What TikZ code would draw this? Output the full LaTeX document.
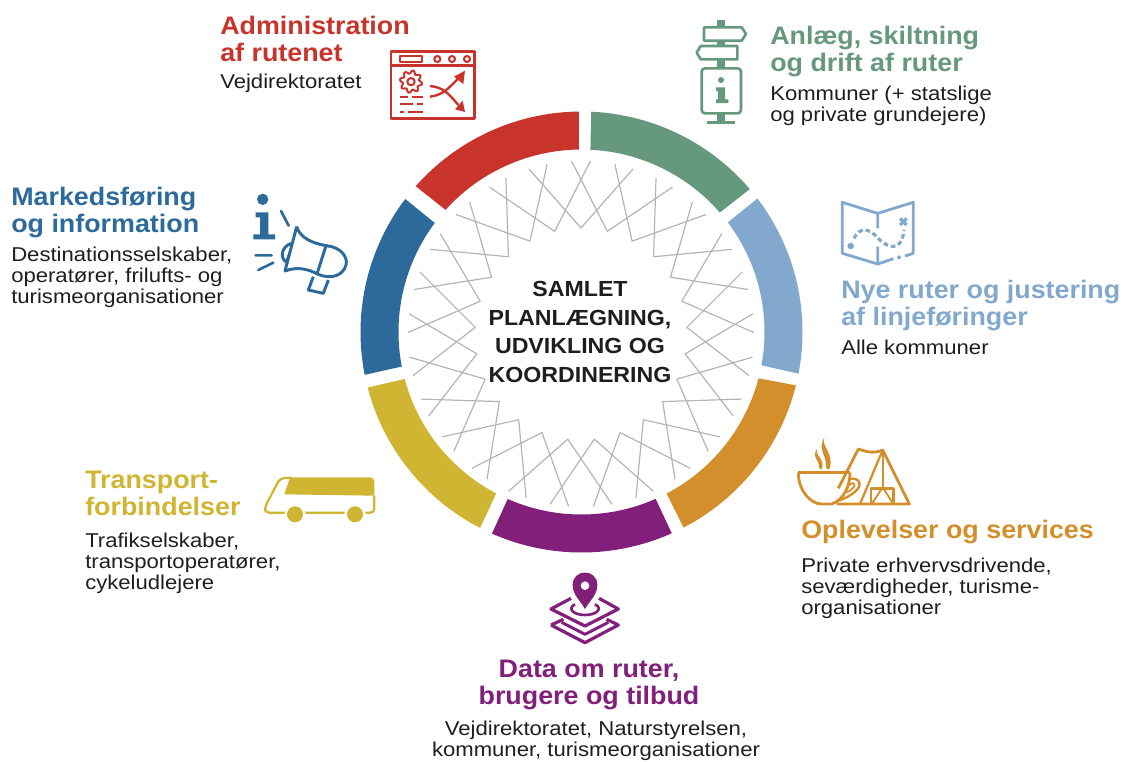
\documentclass[tikz,border=0pt]{standalone}
\usepackage{fontspec}
\setmainfont{Liberation Sans}
\newfontfamily\headf[FakeStretch=1.06]{Liberation Sans}
\newfontfamily\bodyf[FakeStretch=1.105]{Liberation Sans}
\definecolor{cred}{HTML}{C8342C}
\definecolor{cgreen}{HTML}{65987D}
\definecolor{clblue}{HTML}{82A8CE}
\definecolor{corange}{HTML}{D38F2B}
\definecolor{cpurple}{HTML}{821F7A}
\definecolor{cyellow}{HTML}{CFB532}
\definecolor{cdblue}{HTML}{2C6A9C}
\definecolor{cink}{HTML}{1E1E1E}
\definecolor{clat}{HTML}{B4B4B4}
\newcommand{\ringseg}[5]{\fill[#1] plot[domain=#2:#3,samples=40] ({581.5+221*cos(\x)},{332-220.5*sin(\x)}) -- plot[domain=#4:#5,samples=40] ({581.5+183*cos(\x)},{332-182.5*sin(\x)}) -- cycle;}
\tikzset{
  title/.style={anchor=north west,inner sep=0pt,align=left,font=\headf\bfseries\fontsize{19}{20.25}\selectfont},
  body/.style={anchor=north west,inner sep=0pt,align=left,text=cink,font=\bodyf\fontsize{15}{15.5}\selectfont},
  zoomed/.style={x=.25pt,y=-.25pt},
  ic/.style={line width=#1,line join=round},
}
\begin{document}
\begin{tikzpicture}[x=.75pt,y=-.75pt]
\useasboundingbox (0,0) rectangle (1130,761);
% ring
\ringseg{cred}{90.7}{138.6}{138}{90.8}
\ringseg{cgreen}{87.5}{40.4}{40.9}{87.2}
\ringseg{clblue}{37.25}{-10.9}{-10.5}{36.9}
\ringseg{corange}{-14}{-62.5}{-62.3}{-14.7}
\ringseg{cpurple}{246.1}{294.1}{293.9}{246.2}
\ringseg{cyellow}{242.7}{194.6}{194.9}{242.2}
\ringseg{cdblue}{191.2}{142.9}{143.3}{190.9}
% lattice
\foreach \k in {0,...,24}{
  \pgfmathsetmacro{\a}{90+14.4*\k}
  \draw[clat,line width=.9pt,line join=round]
    ({581+173*cos(\a-17.5)},{334-173*sin(\a-17.5)}) --
    ({581+106*cos(\a)},{334-106*sin(\a)}) --
    ({581+173*cos(\a+17.5)},{334-173*sin(\a+17.5)});
}
% centre
\node[anchor=north,inner sep=0pt,align=center,text=cink,font=\headf\bfseries\fontsize{16.4}{21.4}\selectfont] (centre) at (580,281) {SAMLET\\PLANLÆGNING,\\UDVIKLING OG\\KOORDINERING};
% texts
\node[title,text=cred] (t1) at (220,16) {Administration\\af rutenet};
\node[body] (b1) at (220,74) {Vejdirektoratet};
\node[title,text=cgreen] (t2) at (770,26) {Anlæg, skiltning\\og drift af ruter};
\node[body] (b2) at (770,86) {Kommuner (+ statslige\\og private grundejere)};
\node[title,text=clblue] (t3) at (841,280) {Nye ruter og justering\\af linjeføringer};
\node[body] (b3) at (841,340) {Alle kommuner};
\node[title,text=corange] (t4) at (801,520) {Oplevelser og services};
\node[body] (b4) at (801,558) {Private erhvervsdrivende,\\seværdigheder, turisme-\\organisationer};
\node[title,text=cpurple,anchor=north,align=center] (t5) at (589,660) {Data om ruter,\\brugere og tilbud};
\node[body,anchor=north,align=center] (b5) at (596,721) {Vejdirektoratet, Naturstyrelsen,\\kommuner, turismeorganisationer};
\node[title,text=cyellow] (t6) at (85,471) {Transport-\\forbindelser};
\node[body] (b6) at (85,533) {Trafikselskaber,\\transportoperatører,\\cykeludlejere};
\node[title,text=cdblue] (t7) at (11,187) {Markedsføring\\og information};
\node[body] (b7) at (11,247) {Destinationsselskaber,\\operatører, frilufts- og\\turismeorganisationer};
% red icon
\begin{scope}[shift={(380,10)},zoomed,cred]
\draw[ic=1.8pt] (33,125) rectangle (283,325);
\draw[ic=1.8pt] (33,167) -- (283,167);
\draw[ic=1.6pt] (60,138) rectangle (125,155);
\foreach \p in {172,216,261} \draw[ic=1.6pt] (\p,147) circle[radius=9];
\draw[ic=1.5pt] plot[domain=0:360,samples=145] ({93+(29+4.5*sin(8*\x))*cos(\x)},{215+(29+4.5*sin(8*\x))*sin(\x)});
\draw[ic=1.5pt] (93,215) circle[radius=11];
\draw[ic=1.5pt] (60,260)--(85,260) (95,260)--(130,260) (60,283)--(100,283) (112,283)--(128,283) (60,305)--(72,305) (85,305)--(128,305);
\draw[ic=1.8pt] (150,228) .. controls (190,232) and (205,250) .. (235,285);
\draw[ic=1.8pt] (150,260) .. controls (190,255) and (205,235) .. (235,205);
\fill (255,182) -- (250,222) -- (222,200) -- cycle;
\fill (255,306) -- (225,298) -- (248,272) -- cycle;
\end{scope}
% green icon
\begin{scope}[shift={(680,10)},zoomed,cgreen]
\fill (112,30) rectangle (135,338);
\fill (82,333) rectangle (165,343);
\draw[ic=2pt,fill=white] (72,52) -- (185,52) -- (198,72) -- (185,92) -- (72,92) -- cycle;
\draw[ic=2pt,fill=white] (172,108) -- (62,108) -- (50,128) -- (62,148) -- (172,148) -- cycle;
\draw[ic=2pt,fill=white,rounded corners=2.5pt] (65,175) rectangle (183,310);
\fill (123,210) circle[radius=9];
\fill (108,232) -- (135,232) -- (135,268) -- (145,268) -- (145,279) -- (108,279) -- (108,268) -- (114,268) -- (114,243) -- (108,243) -- cycle;
\end{scope}
% map icon
\begin{scope}[shift={(830,190)},zoomed,clblue]
\draw[ic=2.1pt] (143,115) -- (143,70) -- (37,37) -- (37,190) -- (143,222) -- (143,170);
\draw[ic=2.1pt] (143,70) -- (250,37) -- (250,190) -- (225,198);
\draw[ic=2.1pt] (143,222) -- (190,206);
\fill (207,202) circle[radius=6];
\fill (62,168) circle[radius=10];
\draw[ic=2.4pt,dash pattern=on 3.5pt off 2.2pt] (72,145) .. controls (90,110) and (115,115) .. (140,140) .. controls (170,175) and (215,190) .. (222,120);
\draw[ic=2.4pt] (210,85) -- (230,105) (230,85) -- (210,105);
\end{scope}
% orange icon
\begin{scope}[shift={(790,430)},zoomed,corange]
\draw[ic=2.1pt] (25,128) -- (180,128);
\draw[ic=2.1pt] (25,128) .. controls (25,180) and (60,222) .. (95,222) -- (125,222) .. controls (160,210) and (180,170) .. (180,128);
\draw[ic=1.8pt] (178,148) .. controls (205,138) and (222,165) .. (195,185) .. controls (180,198) and (165,205) .. (145,212);
\draw[ic=1.4pt] (178,165) .. controls (195,150) and (205,170) .. (170,187);
\fill (103,22) .. controls (92,50) and (135,70) .. (118,118) .. controls (103,122) and (110,100) .. (105,85) .. controls (97,65) and (88,50) .. cycle;
\fill (82,55) .. controls (72,75) and (108,90) .. (95,118) .. controls (85,120) and (88,105) .. (84,95) .. controls (78,85) and (68,75) .. cycle;
\draw[ic=2.1pt] (140,222) -- (358,222) -- (278,60) .. controls (250,72) and (230,65) .. (205,57) -- (145,175);
\draw[ic=1.7pt] (278,60) -- (210,222);
\draw[ic=1.7pt] (278,60) -- (278,172);
\draw[ic=1.8pt] (243,222) -- (243,175) -- (310,175) -- (310,222);
\draw[ic=1.4pt] (245,222) -- (278,172) -- (310,222);
\end{scope}
% purple icon
\begin{scope}[shift={(535,565)},zoomed,cpurple]
\draw[ic=2.4pt] (48,180) -- (150,233) -- (250,180) -- (215,163) (48,180) -- (85,163);
\draw[ic=2.2pt] (80,172) -- (150,208) -- (220,172);
\draw[ic=2.4pt] (108,100) -- (48,132) -- (150,183) -- (250,132) -- (192,100);
\draw[ic=2pt] (120,118) .. controls (95,130) and (115,150) .. (150,150) .. controls (185,150) and (205,130) .. (180,118);
\fill (150,132) .. controls (135,105) and (113,90) .. (113,60) .. controls (113,10) and (187,10) .. (187,60) .. controls (187,90) and (165,105) .. (150,132) -- cycle;
\fill[white] (150,62) circle[radius=13];
\end{scope}
% bus icon
\begin{scope}[shift={(255,465)},zoomed,cyellow]
\draw[ic=1.7pt,rounded corners=3pt] (358,92) -- (358,143) -- (30,143) -- (30,125) -- (75,40) -- (110,38);
\fill (105,37) -- (345,37) .. controls (353,37) and (358,42) .. (358,50) -- (358,92) -- (88,88) -- cycle;
\fill[white] (120,148) circle[radius=32];
\fill[white] (300,148) circle[radius=32];
\fill (120,148) circle[radius=24];
\fill (300,148) circle[radius=24];
\end{scope}
% blue icon
\begin{scope}[shift={(240,185)},zoomed,cdblue]
\fill (68,43) circle[radius=17];
\fill (47,82) -- (85,82) -- (85,148) -- (105,148) -- (105,163) -- (40,163) -- (40,148) -- (60,148) -- (60,97) -- (47,97) -- cycle;
\draw[ic=2pt,line cap=round] (123,78) -- (146,122) (47,211) -- (95,211) (55,255) -- (100,233);
\draw[ic=2.2pt] (170,125) -- (135,258) .. controls (170,245) and (200,250) .. (235,268);
\draw[ic=2.2pt] (170,125) .. controls (180,160) and (220,175) .. (258,182) -- (230,270);
\draw[ic=2.2pt] (258,182) .. controls (300,185) and (325,215) .. (318,240) .. controls (310,270) and (275,285) .. (235,268);
\draw[ic=2.2pt] (155,175) .. controls (120,185) and (120,225) .. (142,232);
\draw[ic=1.4pt] (153,190) -- (140,225);
\draw[ic=2.2pt] (220,275) -- (205,315) -- (250,325) -- (265,285);
\end{scope}
\end{tikzpicture}
\end{document}
